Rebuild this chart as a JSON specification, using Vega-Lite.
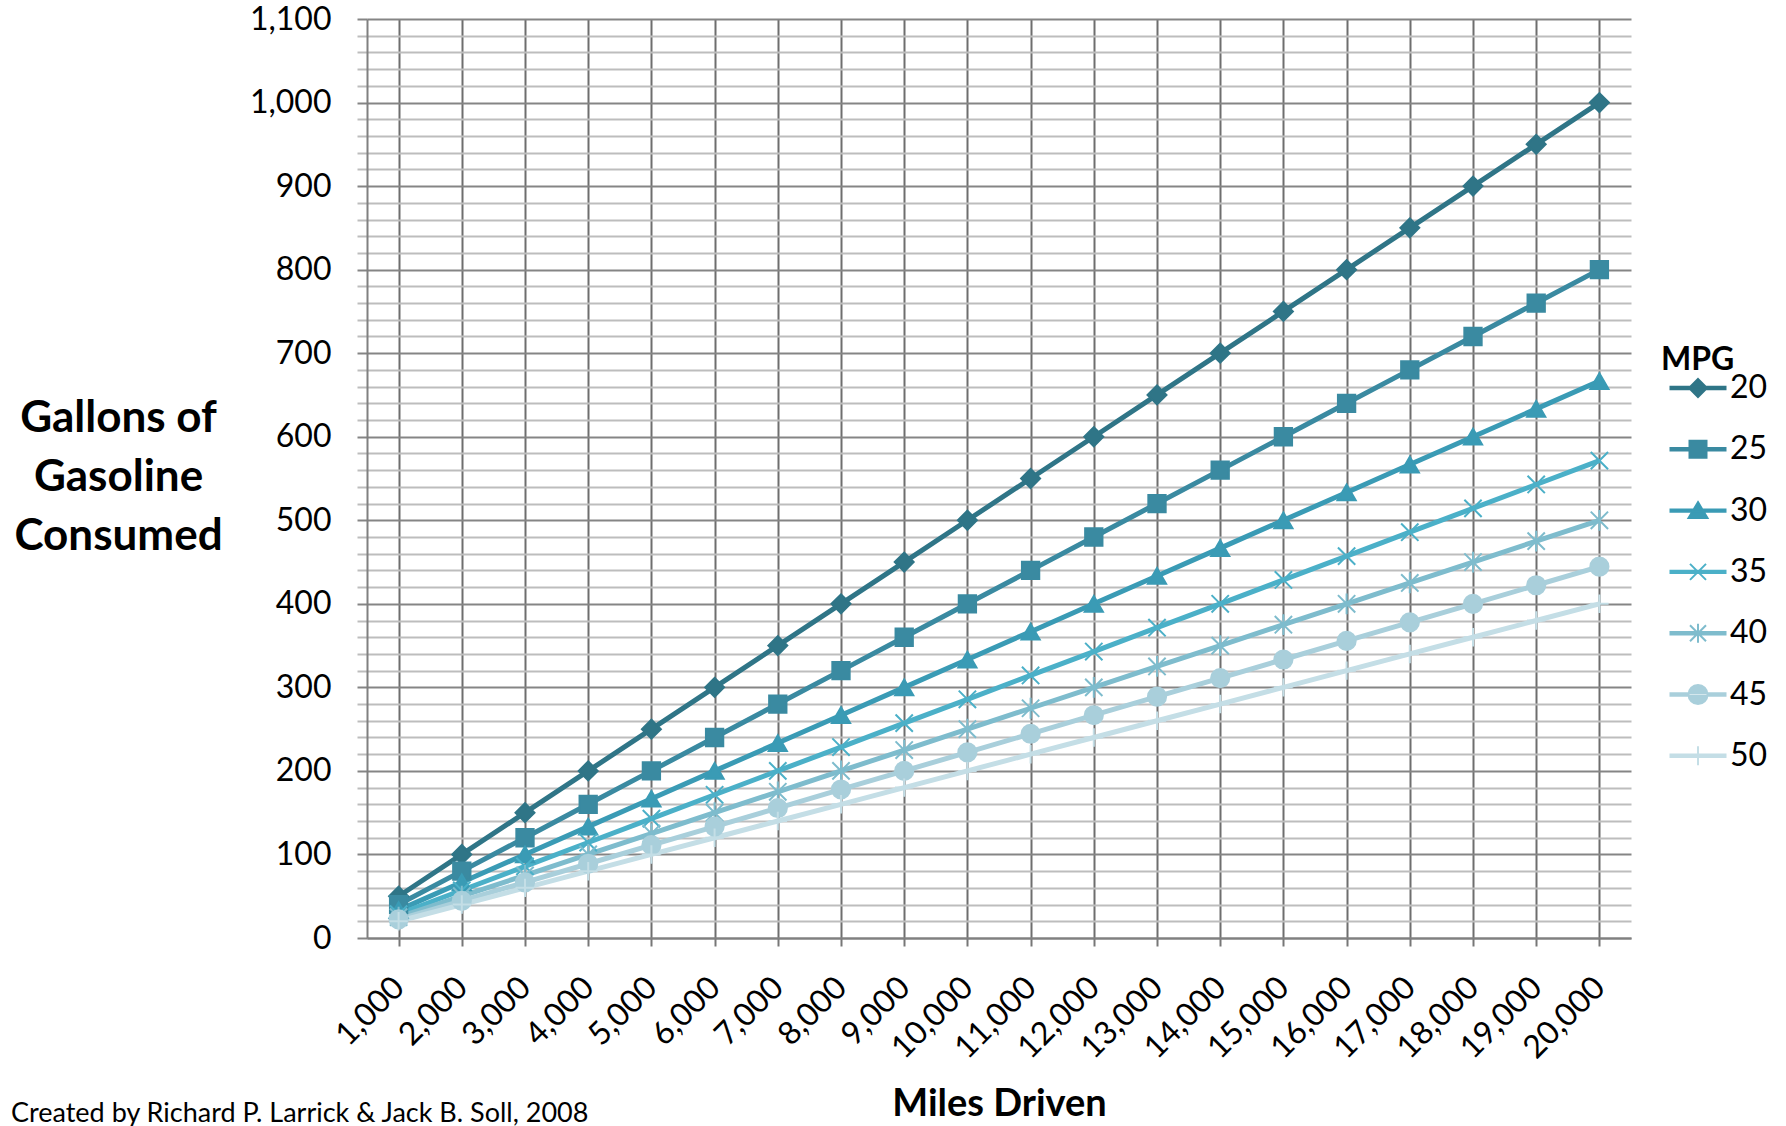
{
  "$schema": "https://vega.github.io/schema/vega-lite/v6.json",
  "width": 1264,
  "height": 919,
  "autosize": {"type": "none"},
  "padding": {"left": 367, "top": 19, "right": 155, "bottom": 188},
  "background": "white",
  "config": {"font": "Lato", "view": {"stroke": null}},
  "title": {"text": "Created by Richard P. Larrick & Jack B. Soll, 2008", "orient": "bottom", "anchor": "start", "frame": "group", "dx": -356, "dy": -26, "fontSize": 27, "fontWeight": "normal", "color": "black"},
  "data": {"values": [
    {"miles": 1000, "mpg": 20, "gallons": 50}, {"miles": 2000, "mpg": 20, "gallons": 100}, {"miles": 3000, "mpg": 20, "gallons": 150}, {"miles": 4000, "mpg": 20, "gallons": 200}, {"miles": 5000, "mpg": 20, "gallons": 250}, {"miles": 6000, "mpg": 20, "gallons": 300}, {"miles": 7000, "mpg": 20, "gallons": 350}, {"miles": 8000, "mpg": 20, "gallons": 400}, {"miles": 9000, "mpg": 20, "gallons": 450}, {"miles": 10000, "mpg": 20, "gallons": 500},
    {"miles": 11000, "mpg": 20, "gallons": 550}, {"miles": 12000, "mpg": 20, "gallons": 600}, {"miles": 13000, "mpg": 20, "gallons": 650}, {"miles": 14000, "mpg": 20, "gallons": 700}, {"miles": 15000, "mpg": 20, "gallons": 750}, {"miles": 16000, "mpg": 20, "gallons": 800}, {"miles": 17000, "mpg": 20, "gallons": 850}, {"miles": 18000, "mpg": 20, "gallons": 900}, {"miles": 19000, "mpg": 20, "gallons": 950}, {"miles": 20000, "mpg": 20, "gallons": 1000},
    {"miles": 1000, "mpg": 25, "gallons": 40}, {"miles": 2000, "mpg": 25, "gallons": 80}, {"miles": 3000, "mpg": 25, "gallons": 120}, {"miles": 4000, "mpg": 25, "gallons": 160}, {"miles": 5000, "mpg": 25, "gallons": 200}, {"miles": 6000, "mpg": 25, "gallons": 240}, {"miles": 7000, "mpg": 25, "gallons": 280}, {"miles": 8000, "mpg": 25, "gallons": 320}, {"miles": 9000, "mpg": 25, "gallons": 360}, {"miles": 10000, "mpg": 25, "gallons": 400},
    {"miles": 11000, "mpg": 25, "gallons": 440}, {"miles": 12000, "mpg": 25, "gallons": 480}, {"miles": 13000, "mpg": 25, "gallons": 520}, {"miles": 14000, "mpg": 25, "gallons": 560}, {"miles": 15000, "mpg": 25, "gallons": 600}, {"miles": 16000, "mpg": 25, "gallons": 640}, {"miles": 17000, "mpg": 25, "gallons": 680}, {"miles": 18000, "mpg": 25, "gallons": 720}, {"miles": 19000, "mpg": 25, "gallons": 760}, {"miles": 20000, "mpg": 25, "gallons": 800},
    {"miles": 1000, "mpg": 30, "gallons": 33.33}, {"miles": 2000, "mpg": 30, "gallons": 66.67}, {"miles": 3000, "mpg": 30, "gallons": 100}, {"miles": 4000, "mpg": 30, "gallons": 133.33}, {"miles": 5000, "mpg": 30, "gallons": 166.67}, {"miles": 6000, "mpg": 30, "gallons": 200}, {"miles": 7000, "mpg": 30, "gallons": 233.33}, {"miles": 8000, "mpg": 30, "gallons": 266.67}, {"miles": 9000, "mpg": 30, "gallons": 300}, {"miles": 10000, "mpg": 30, "gallons": 333.33},
    {"miles": 11000, "mpg": 30, "gallons": 366.67}, {"miles": 12000, "mpg": 30, "gallons": 400}, {"miles": 13000, "mpg": 30, "gallons": 433.33}, {"miles": 14000, "mpg": 30, "gallons": 466.67}, {"miles": 15000, "mpg": 30, "gallons": 500}, {"miles": 16000, "mpg": 30, "gallons": 533.33}, {"miles": 17000, "mpg": 30, "gallons": 566.67}, {"miles": 18000, "mpg": 30, "gallons": 600}, {"miles": 19000, "mpg": 30, "gallons": 633.33}, {"miles": 20000, "mpg": 30, "gallons": 666.67},
    {"miles": 1000, "mpg": 35, "gallons": 28.57}, {"miles": 2000, "mpg": 35, "gallons": 57.14}, {"miles": 3000, "mpg": 35, "gallons": 85.71}, {"miles": 4000, "mpg": 35, "gallons": 114.29}, {"miles": 5000, "mpg": 35, "gallons": 142.86}, {"miles": 6000, "mpg": 35, "gallons": 171.43}, {"miles": 7000, "mpg": 35, "gallons": 200}, {"miles": 8000, "mpg": 35, "gallons": 228.57}, {"miles": 9000, "mpg": 35, "gallons": 257.14}, {"miles": 10000, "mpg": 35, "gallons": 285.71},
    {"miles": 11000, "mpg": 35, "gallons": 314.29}, {"miles": 12000, "mpg": 35, "gallons": 342.86}, {"miles": 13000, "mpg": 35, "gallons": 371.43}, {"miles": 14000, "mpg": 35, "gallons": 400}, {"miles": 15000, "mpg": 35, "gallons": 428.57}, {"miles": 16000, "mpg": 35, "gallons": 457.14}, {"miles": 17000, "mpg": 35, "gallons": 485.71}, {"miles": 18000, "mpg": 35, "gallons": 514.29}, {"miles": 19000, "mpg": 35, "gallons": 542.86}, {"miles": 20000, "mpg": 35, "gallons": 571.43},
    {"miles": 1000, "mpg": 40, "gallons": 25}, {"miles": 2000, "mpg": 40, "gallons": 50}, {"miles": 3000, "mpg": 40, "gallons": 75}, {"miles": 4000, "mpg": 40, "gallons": 100}, {"miles": 5000, "mpg": 40, "gallons": 125}, {"miles": 6000, "mpg": 40, "gallons": 150}, {"miles": 7000, "mpg": 40, "gallons": 175}, {"miles": 8000, "mpg": 40, "gallons": 200}, {"miles": 9000, "mpg": 40, "gallons": 225}, {"miles": 10000, "mpg": 40, "gallons": 250},
    {"miles": 11000, "mpg": 40, "gallons": 275}, {"miles": 12000, "mpg": 40, "gallons": 300}, {"miles": 13000, "mpg": 40, "gallons": 325}, {"miles": 14000, "mpg": 40, "gallons": 350}, {"miles": 15000, "mpg": 40, "gallons": 375}, {"miles": 16000, "mpg": 40, "gallons": 400}, {"miles": 17000, "mpg": 40, "gallons": 425}, {"miles": 18000, "mpg": 40, "gallons": 450}, {"miles": 19000, "mpg": 40, "gallons": 475}, {"miles": 20000, "mpg": 40, "gallons": 500},
    {"miles": 1000, "mpg": 45, "gallons": 22.22}, {"miles": 2000, "mpg": 45, "gallons": 44.44}, {"miles": 3000, "mpg": 45, "gallons": 66.67}, {"miles": 4000, "mpg": 45, "gallons": 88.89}, {"miles": 5000, "mpg": 45, "gallons": 111.11}, {"miles": 6000, "mpg": 45, "gallons": 133.33}, {"miles": 7000, "mpg": 45, "gallons": 155.56}, {"miles": 8000, "mpg": 45, "gallons": 177.78}, {"miles": 9000, "mpg": 45, "gallons": 200}, {"miles": 10000, "mpg": 45, "gallons": 222.22},
    {"miles": 11000, "mpg": 45, "gallons": 244.44}, {"miles": 12000, "mpg": 45, "gallons": 266.67}, {"miles": 13000, "mpg": 45, "gallons": 288.89}, {"miles": 14000, "mpg": 45, "gallons": 311.11}, {"miles": 15000, "mpg": 45, "gallons": 333.33}, {"miles": 16000, "mpg": 45, "gallons": 355.56}, {"miles": 17000, "mpg": 45, "gallons": 377.78}, {"miles": 18000, "mpg": 45, "gallons": 400}, {"miles": 19000, "mpg": 45, "gallons": 422.22}, {"miles": 20000, "mpg": 45, "gallons": 444.44},
    {"miles": 1000, "mpg": 50, "gallons": 20}, {"miles": 2000, "mpg": 50, "gallons": 40}, {"miles": 3000, "mpg": 50, "gallons": 60}, {"miles": 4000, "mpg": 50, "gallons": 80}, {"miles": 5000, "mpg": 50, "gallons": 100}, {"miles": 6000, "mpg": 50, "gallons": 120}, {"miles": 7000, "mpg": 50, "gallons": 140}, {"miles": 8000, "mpg": 50, "gallons": 160}, {"miles": 9000, "mpg": 50, "gallons": 180}, {"miles": 10000, "mpg": 50, "gallons": 200},
    {"miles": 11000, "mpg": 50, "gallons": 220}, {"miles": 12000, "mpg": 50, "gallons": 240}, {"miles": 13000, "mpg": 50, "gallons": 260}, {"miles": 14000, "mpg": 50, "gallons": 280}, {"miles": 15000, "mpg": 50, "gallons": 300}, {"miles": 16000, "mpg": 50, "gallons": 320}, {"miles": 17000, "mpg": 50, "gallons": 340}, {"miles": 18000, "mpg": 50, "gallons": 360}, {"miles": 19000, "mpg": 50, "gallons": 380}, {"miles": 20000, "mpg": 50, "gallons": 400}
  ]},
  "encoding": {
    "x": {
      "field": "miles", "type": "quantitative",
      "scale": {"domain": [500, 20500], "nice": false, "zero": false},
      "axis": {
        "values": [1000, 2000, 3000, 4000, 5000, 6000, 7000, 8000, 9000, 10000, 11000, 12000, 13000, 14000, 15000, 16000, 17000, 18000, 19000, 20000],
        "format": ",.0f", "labelAngle": -45, "labelAlign": "right", "labelBaseline": "middle",
        "labelFontSize": 32, "labelColor": "black", "labelPadding": 36, "labelFlush": false, "labelOverlap": false,
        "tickSize": 8, "tickColor": "#777777", "tickWidth": 2,
        "domainColor": "#808080", "domainWidth": 2,
        "grid": true, "gridColor": "#6e6e6e", "gridWidth": 2,
        "title": "Miles Driven", "titleFontSize": 38, "titleFontWeight": "bold", "titleColor": "black",
        "titleY": 177, "titleBaseline": "alphabetic"
      }
    },
    "y": {
      "field": "gallons", "type": "quantitative",
      "scale": {"domain": [0, 1100], "nice": false},
      "axis": {
        "values": [0, 20, 40, 60, 80, 100, 120, 140, 160, 180, 200, 220, 240, 260, 280, 300, 320, 340, 360, 380, 400, 420, 440, 460, 480, 500, 520, 540, 560, 580, 600, 620, 640, 660, 680, 700, 720, 740, 760, 780, 800, 820, 840, 860, 880, 900, 920, 940, 960, 980, 1000, 1020, 1040, 1060, 1080, 1100],
        "format": ",.0f", "labelExpr": "datum.value % 100 === 0 ? datum.label : ''",
        "labelFontSize": 32, "labelColor": "black", "labelPadding": 26, "labelOverlap": false, "labelFlush": false,
        "tickSize": 10, "tickWidth": 2,
        "tickColor": {"condition": {"test": "datum.value % 100 === 0", "value": "#858585"}, "value": "#bdbdbd"},
        "domainColor": "#808080", "domainWidth": 2,
        "grid": true, "gridWidth": 2,
        "gridColor": {"condition": {"test": "datum.value % 100 === 0", "value": "#858585"}, "value": "#bdbdbd"},
        "title": ["Gallons of", "Gasoline", "Consumed"],
        "titleAngle": 0, "titleAlign": "center", "titleBaseline": "top",
        "titleX": -249, "titleY": 377, "titleFontSize": 44, "titleFontWeight": "bold", "titleColor": "black", "titleLineHeight": 59
      }
    }
  },
  "layer": [
    {
      "mark": {"type": "line", "strokeWidth": 5},
      "encoding": {
        "color": {"field": "mpg", "type": "nominal",
          "scale": {"domain": [20, 25, 30, 35, 40, 45, 50], "range": ["#2f7587", "#3a8aa1", "#3a9bb5", "#4bb0c8", "#7ebccd", "#a9cfdb", "#c4dee6"]}}
      }
    },
    {
      "mark": {"type": "point", "filled": true, "opacity": 0, "size": 10},
      "encoding": {
        "color": {"field": "mpg", "type": "nominal",
          "scale": {"domain": [20, 25, 30, 35, 40, 45, 50], "range": ["#2f7587", "#3a8aa1", "#3a9bb5", "#4bb0c8", "#7ebccd", "#a9cfdb", "#c4dee6"]},
          "legend": {
            "title": "MPG", "orient": "none", "legendX": 1294, "legendY": 326,
            "titleFontSize": 32, "titleFontWeight": "bold", "titleColor": "black", "titlePadding": -5,
            "labelFontSize": 32, "labelColor": "black", "labelOffset": 16,
            "symbolSize": 400, "symbolStrokeWidth": 2, "symbolOpacity": 1, "symbolOffset": 21, "rowPadding": 29.3, "padding": 0
          }
        },
        "stroke": {"field": "mpg", "type": "nominal", "legend": {"title": "MPG"},
          "scale": {"domain": [20, 25, 30, 35, 40, 45, 50], "range": ["#2f7587", "#3a8aa1", "#3a9bb5", "#4bb0c8", "#7ebccd", "#a9cfdb", "#c4dee6"]}},
        "shape": {"field": "mpg", "type": "nominal", "legend": {"title": "MPG"},
          "scale": {"domain": [20, 25, 30, 35, 40, 45, 50], "range": [
            "M-2.75,-0.12L2.75,-0.12L2.75,0.12L-2.75,0.12ZM0,-0.9L0.9,0L0,0.9L-0.9,0Z",
            "M-2.75,-0.12L2.75,-0.12L2.75,0.12L-2.75,0.12ZM-0.85,-0.85L0.85,-0.85L0.85,0.85L-0.85,0.85Z",
            "M-2.75,-0.12L2.75,-0.12L2.75,0.12L-2.75,0.12ZM0,-0.85L0.95,0.75L-0.95,0.75Z",
            "M-2.75,-0.12L2.75,-0.12L2.75,0.12L-2.75,0.12ZM-0.8,-0.8L0.8,0.8M-0.8,0.8L0.8,-0.8",
            "M-2.75,-0.12L2.75,-0.12L2.75,0.12L-2.75,0.12ZM-0.8,-0.8L0.8,0.8M-0.8,0.8L0.8,-0.8M0,-0.95L0,0.95",
            "M-2.75,-0.12L2.75,-0.12L2.75,0.12L-2.75,0.12ZM-0.95,0A0.95,0.95 0 1 0 0.95,0A0.95,0.95 0 1 0 -0.95,0Z",
            "M-2.75,-0.12L2.75,-0.12L2.75,0.12L-2.75,0.12ZM0,-0.95L0,0.95"
          ]}}
      }
    },
    {
      "transform": [{"filter": "datum.mpg == 20"}],
      "mark": {"type": "point", "shape": "diamond", "filled": true, "opacity": 1, "size": 360, "strokeWidth": 2},
      "encoding": {"color": {"field": "mpg", "type": "nominal"}, "stroke": {"field": "mpg", "type": "nominal"}}
    },
    {
      "transform": [{"filter": "datum.mpg == 25"}],
      "mark": {"type": "point", "shape": "square", "filled": true, "opacity": 1, "size": 300, "strokeWidth": 2},
      "encoding": {"color": {"field": "mpg", "type": "nominal"}, "stroke": {"field": "mpg", "type": "nominal"}}
    },
    {
      "transform": [{"filter": "datum.mpg == 30"}],
      "mark": {"type": "point", "shape": "triangle-up", "filled": true, "opacity": 1, "size": 330, "strokeWidth": 2},
      "encoding": {"color": {"field": "mpg", "type": "nominal"}, "stroke": {"field": "mpg", "type": "nominal"}}
    },
    {
      "transform": [{"filter": "datum.mpg == 35"}],
      "mark": {"type": "point", "shape": "M-1,-1L1,1M-1,1L1,-1", "filled": true, "opacity": 1, "size": 300, "strokeWidth": 2},
      "encoding": {"color": {"field": "mpg", "type": "nominal"}, "stroke": {"field": "mpg", "type": "nominal"}}
    },
    {
      "transform": [{"filter": "datum.mpg == 40"}],
      "mark": {"type": "point", "shape": "M-1,-1L1,1M-1,1L1,-1M0,-1.2L0,1.2", "filled": true, "opacity": 1, "size": 300, "strokeWidth": 2},
      "encoding": {"color": {"field": "mpg", "type": "nominal"}, "stroke": {"field": "mpg", "type": "nominal"}}
    },
    {
      "transform": [{"filter": "datum.mpg == 45"}],
      "mark": {"type": "point", "shape": "circle", "filled": true, "opacity": 1, "size": 330, "strokeWidth": 2},
      "encoding": {"color": {"field": "mpg", "type": "nominal"}, "stroke": {"field": "mpg", "type": "nominal"}}
    },
    {
      "transform": [{"filter": "datum.mpg == 50"}],
      "mark": {"type": "point", "shape": "M0,-1L0,1M-1,0L1,0", "filled": true, "opacity": 1, "size": 340, "strokeWidth": 2},
      "encoding": {"color": {"field": "mpg", "type": "nominal"}, "stroke": {"field": "mpg", "type": "nominal"}}
    }
  ]
}
